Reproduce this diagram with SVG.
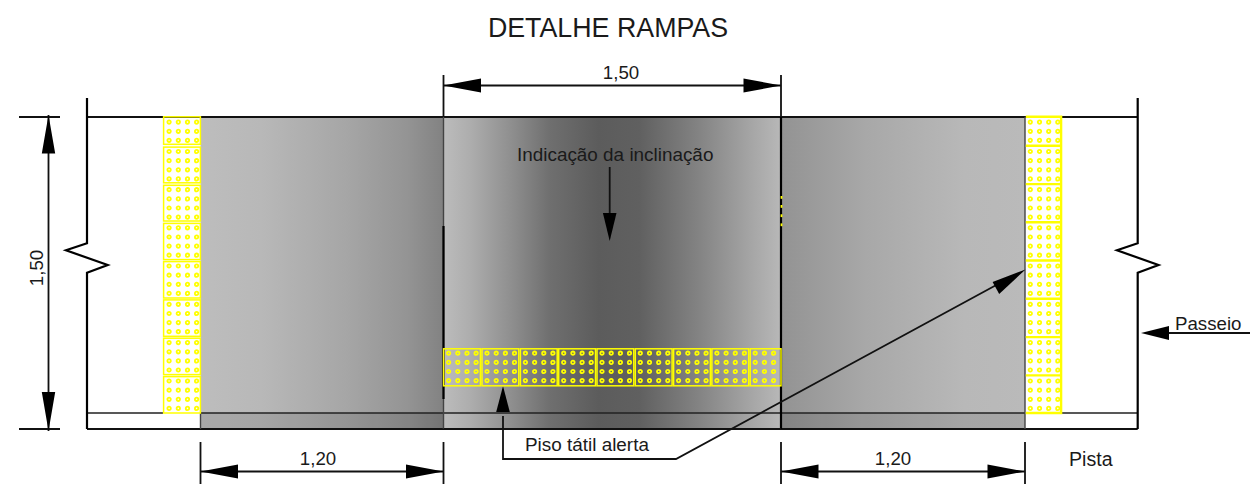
<svg xmlns="http://www.w3.org/2000/svg" width="1250" height="484" viewBox="0 0 1250 484">
<style>
text{font-family:"Liberation Sans",Arial,sans-serif;fill:#1a1a1a;font-size:18.7px}
.l{fill:none;stroke:#111;stroke-width:1.8}
.t{fill:none;stroke:#222;stroke-width:1.3}
.g{fill:none;stroke:#444;stroke-width:1.4}
.b{fill:none;stroke:#000;stroke-width:2.2}
.p{fill:none;stroke:#ffff00;stroke-width:1.5}
.pb{fill:none;stroke:#ffff00;stroke-width:2.4}
.d{fill:none;stroke:#ffff00;stroke-width:1.8}
.a{fill:#000}
</style>
<defs>
<linearGradient id="gl" x1="0" x2="1" y1="0" y2="0"><stop offset="0" stop-color="#bdbdbd"/><stop offset=".25" stop-color="#b8b8b8"/><stop offset=".6" stop-color="#a6a6a6"/><stop offset=".85" stop-color="#949494"/><stop offset="1" stop-color="#828282"/></linearGradient>
<linearGradient id="gm" x1="0" x2="1" y1="0" y2="0"><stop offset="0" stop-color="#bcbcbc"/><stop offset=".08" stop-color="#adadad"/><stop offset=".2" stop-color="#8f8f8f"/><stop offset=".315" stop-color="#6f6f6f"/><stop offset=".46" stop-color="#5c5c5c"/><stop offset=".58" stop-color="#606060"/><stop offset=".76" stop-color="#848484"/><stop offset=".91" stop-color="#a5a5a5"/><stop offset="1" stop-color="#b8b8b8"/></linearGradient>
<linearGradient id="gr" x1="0" x2="1" y1="0" y2="0"><stop offset="0" stop-color="#939393"/><stop offset=".35" stop-color="#a8a8a8"/><stop offset=".75" stop-color="#b8b8b8"/><stop offset="1" stop-color="#bababa"/></linearGradient>
<g id="dr3"><circle cx="0" cy="0" r="1.7" class="d"/><circle cx="9.2" cy="0" r="1.7" class="d"/><circle cx="18.4" cy="0" r="1.7" class="d"/></g>
<g id="dr"><use href="#dr3"/><circle cx="27.5" cy="0" r="1.7" class="d"/></g>
<g id="dots"><use href="#dr" y="4.4"/><use href="#dr" y="13.6"/><use href="#dr" y="22.7"/><use href="#dr" y="31.8"/></g>
<g id="dots3"><use href="#dr" y="5.3"/><use href="#dr" y="14.5"/><use href="#dr" y="23.5"/></g>
<g id="coldots">
<use href="#dots3" x="5.5"/>
<use href="#dots" x="5.5" y="30.3"/><use href="#dots" x="5.5" y="68.5"/><use href="#dots" x="5.5" y="106.6"/><use href="#dots" x="5.5" y="144.8"/><use href="#dots" x="5.5" y="183.1"/><use href="#dots" x="5.5" y="221.4"/><use href="#dots" x="5.5" y="259.8"/>
</g>
<g id="cell"><rect class="p" width="36.8" height="37"/><use href="#dots" x="5" y="0"/></g>
</defs>

<g id="title"><text x="608" y="36.5" text-anchor="middle" style="font-size:26.8px">DETALHE RAMPAS</text></g>

<g id="ramp-left"><rect x="200.5" y="117" width="243" height="312" fill="url(#gl)"/><rect x="200.5" y="413" width="243" height="16" fill="#000" opacity=".1"/></g>
<g id="ramp-center"><rect x="443.5" y="117" width="337.5" height="312" fill="url(#gm)"/></g>
<g id="ramp-right"><rect x="781" y="117" width="244" height="312" fill="url(#gr)"/><rect x="781" y="413" width="244" height="16" fill="#000" opacity=".1"/></g>

<g id="connectors">
<path class="l" d="M87 117H1137.7M87 429H1137.7"/>
<path class="t" d="M87 413H163M1062 413H1137.7M200.5 413H1025"/>
<path class="b" d="M87 98V243.3L66 250.3L107.7 265L87 272.7V429"/>
<path class="b" d="M1137.7 98V243.3L1117 250.3L1158.5 265L1137.7 272.7V429"/>
<path class="g" d="M443.5 117V429M1025 117V429M200.5 413V429"/>
<path class="b" d="M443.5 226V399M781 117V429"/>
<path class="l" d="M443.5 429H781"/>

<path class="l" d="M48.5 115V431M19 117H60M19 429H60"/>
<path class="a" d="M48.5 115L55.2 153.5H41.8ZM48.5 431L55.2 392H41.8Z"/>
<path class="l" d="M200.5 471.5H443.5M200.5 442V484M443.5 442V484"/>
<path class="a" d="M200.5 471.5L238 464.6V478.4ZM443.5 471.5L406 464.6V478.4Z"/>
<path class="l" d="M781 471.5H1025M781 442V484M1025 442V484"/>
<path class="a" d="M781 471.5L818.5 464.6V478.4ZM1025 471.5L987.5 464.6V478.4Z"/>
<path class="l" d="M443.5 75V117M781 75V117M443.5 85.5H781"/>
<path class="a" d="M443.5 85.5L481 78.6V92.4ZM781 85.5L743.5 78.6V92.4Z"/>

<path class="l" d="M609.7 167V214"/>
<path class="a" d="M609.7 241L602.9 213H616.5Z"/>
<path class="l" d="M503 416V459H676L1000 283"/>
<path class="a" d="M503 386L496.2 412H509.8Z"/>
<path class="a" d="M1025.5 269.5L992.6 281.9L999.2 294Z"/>
<path class="l" d="M1250 333H1168"/>
<path class="a" d="M1141 333L1169 326V340Z"/>
</g>

<g id="tactile-left">
<g transform="translate(163.6,116.8)">
<rect class="p" width="36.8" height="27.5"/><rect class="p" y="30.3" width="36.8" height="35.7"/><rect class="p" y="68.5" width="36.8" height="35.7"/><rect class="p" y="106.6" width="36.8" height="36.2"/><rect class="p" y="144.8" width="36.8" height="36.4"/><rect class="p" y="183.1" width="36.8" height="36.4"/><rect class="p" y="221.4" width="36.8" height="36.4"/><rect class="p" y="259.8" width="36.8" height="36.4"/>
<use href="#coldots"/></g>
</g>
<g id="tactile-right">
<g transform="translate(1024.8,116.8)">
<path class="pb" d="M1 0H36.3V296.2H1M1 29H36.3M1 67.3H36.3M1 105.5H36.3M1 143.7H36.3M1 182H36.3M1 220.3H36.3M1 258.6H36.3"/>
<use href="#coldots"/></g>
</g>
<g id="tactile-center">
<use href="#cell" x="443.6" y="348.8"/><use href="#cell" x="482" y="348.8"/><use href="#cell" x="520.4" y="348.8"/><use href="#cell" x="558.7" y="348.8"/><use href="#cell" x="597" y="348.8"/><use href="#cell" x="635.3" y="348.8"/><use href="#cell" x="673.6" y="348.8"/><use href="#cell" x="711.9" y="348.8"/>
<rect class="p" x="750.2" y="348.8" width="30.8" height="37"/>
<use href="#dr3" x="755.2" y="353.2"/><use href="#dr3" x="755.2" y="362.4"/><use href="#dr3" x="755.2" y="371.5"/><use href="#dr3" x="755.2" y="380.6"/>
<g fill="#ffff00"><rect x="780.6" y="196" width="1.8" height="2.8"/><rect x="780.6" y="205" width="1.8" height="2.8"/><rect x="780.6" y="214.3" width="1.8" height="2.8"/><rect x="780.6" y="223.4" width="1.8" height="2.8"/></g>
</g>

<g id="labels">
<text x="621" y="78.5" text-anchor="middle">1,50</text>
<text x="318" y="465" text-anchor="middle">1,20</text>
<text x="893" y="465" text-anchor="middle">1,20</text>
<text transform="translate(43,268) rotate(-90)" text-anchor="middle">1,50</text>
<text x="517" y="160.5" style="font-size:18.9px">Indicação da inclinação</text>
<text x="525" y="451" style="font-size:18.9px">Piso tátil alerta</text>
<text x="1175" y="330">Passeio</text>
<text x="1069" y="466" style="font-size:19.6px">Pista</text>
</g>
</svg>
